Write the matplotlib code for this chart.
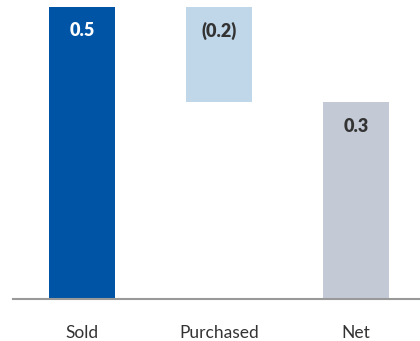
import matplotlib
matplotlib.use("Agg")
import matplotlib.pyplot as plt

categories = ["Sold", "Purchased", "Net"]
values = [0.49, -0.16, 0.33]
labels = ["0.5", "(0.2)", "0.3"]
colors = ["#0054A6", "#C0D7EA", "#C3CAD6"]
text_colors = ["white", "#333333", "#333333"]

plt.rcParams['font.family'] = ['Lato', 'DejaVu Sans']

fig = plt.figure(figsize=(4.2, 3.41), dpi=100)
ax = fig.add_axes([13/420, 42/341, 407/420, 292/341])

bottoms = [0, values[0] + values[1], 0]
heights = [values[0], -values[1], values[2]]
x = range(len(categories))
ax.bar(x, heights, bottom=bottoms, width=0.48, color=colors)

for i in x:
    top = bottoms[i] + heights[i]
    ax.annotate(labels[i], (i, top), xytext=(0, -24), textcoords="offset pixels",
                ha="center", va="center", fontsize=13, fontweight="heavy",
                color=text_colors[i])

ax.set_xlim(-0.504, 2.467)
ax.set_ylim(0, values[0])
ax.set_xticks(list(x))
ax.set_xticklabels(categories, fontsize=12.5, color="#333333")
ax.tick_params(axis="x", length=0, pad=19)
ax.set_yticks([])
for s in ["top", "right", "left"]:
    ax.spines[s].set_visible(False)
ax.spines["bottom"].set_color("#999999")
ax.spines["bottom"].set_linewidth(1.5)

fig.savefig("out.png", dpi=100)
